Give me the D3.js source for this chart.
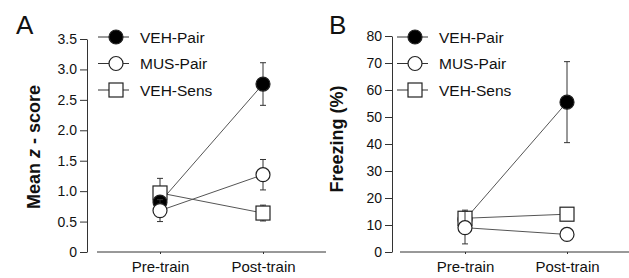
<!DOCTYPE html>
<html lang="en">
<head>
    <meta charset="UTF-8">
    <title>Z-score and freezing</title>
    <script src="https://d3js.org/d3.v7.min.js"></script>
    <style>
        body { margin: 0; background: white; }
        text { font-family: "Liberation Sans", Arial, sans-serif; fill: #111; }
        .tick text { font-size: 14px; }
        .axis path, .axis line { stroke: #333; stroke-width: 1px; }
        .ylab { font-size: 18px; font-weight: bold; }
        .panel { font-size: 26px; }
        .legend text { font-size: 15.5px; }
    </style>
</head>
<body>
<script>
    // categories and groups
    const phases = ["Pre-train", "Post-train"];
    const groups = ["VEH-Pair", "MUS-Pair", "VEH-Sens"];

    // panel A: mean z-score, [pre, post] and SEM
    const zMean = {"VEH-Pair": [0.82, 2.76], "MUS-Pair": [0.68, 1.27], "VEH-Sens": [0.97, 0.64]};
    const zErr  = {"VEH-Pair": [0.05, 0.35], "MUS-Pair": [0.18, 0.25], "VEH-Sens": [0.24, 0.13]};

    // panel B: freezing (%), [pre, post] and SEM
    const frzMean = {"VEH-Pair": [12, 55.5], "MUS-Pair": [9, 6.5], "VEH-Sens": [12.5, 14]};
    const frzErr  = {"VEH-Pair": [2, 15], "MUS-Pair": [6, 1], "VEH-Sens": [3, 1]};

    const zTicks = [0, 0.5, 1.0, 1.5, 2.0, 2.5, 3.0, 3.5];
    const frzTicks = [0, 10, 20, 30, 40, 50, 60, 70, 80];

    const svg = d3.select("body").append("svg")
        .attr("width", 629).attr("height", 278);

    function drawPanel(o) {
        const g = svg.append("g");
        const x = d3.scalePoint().domain(phases).range(o.xr);
        const y = d3.scaleLinear().domain([0, o.ymax]).range([252, o.ytop]);

        // y axis
        const ya = g.append("g").attr("class", "axis")
            .attr("transform", `translate(${o.ax},0)`)
            .call(d3.axisLeft(y).tickValues(o.ticks).tickSize(7).tickSizeOuter(0)
                .tickFormat(d => d === 0 ? "0" : o.fmt(d)));
        ya.selectAll(".tick text").attr("x", -10);

        // x axis line
        const xa = g.append("g").attr("class", "axis")
            .attr("transform", "translate(0,252)")
            .call(d3.axisBottom(x).tickSize(2).tickSizeOuter(0));
        xa.select(".domain").attr("d", `M${o.xl[0]},0H${o.xl[1]}`);
        xa.selectAll(".tick text").attr("y", 9).style("font-size", "15px");

        g.append("text").attr("class", "ylab")
            .attr("transform", `translate(${o.lx},${o.ly}) rotate(-90)`)
            .attr("text-anchor", "middle")
            .html(o.ylab);

        g.append("text").attr("class", "panel")
            .attr("x", o.px).attr("y", 34).text(o.letter);

        // connecting lines
        groups.forEach(k => {
            g.append("line")
                .attr("x1", x(phases[0])).attr("y1", y(o.mean[k][0]))
                .attr("x2", x(phases[1])).attr("y2", y(o.mean[k][1]))
                .attr("stroke", "#555").attr("stroke-width", 1);
        });

        // error bars + markers, in the panel's drawing order
        o.order.forEach(k => {
            phases.forEach((p, i) => {
                const cx = x(p), m = o.mean[k][i], e = o.err[k][i];
                g.append("path")
                    .attr("d", `M${cx},${y(m - e)}V${y(m + e)}M${cx - 3},${y(m - e)}H${cx + 3}M${cx - 3},${y(m + e)}H${cx + 3}`)
                    .attr("stroke", "#333").attr("fill", "none");
                marker(g, k, cx, y(m));
            });
        });

        // legend
        const lg = g.append("g").attr("class", "legend");
        groups.forEach((k, i) => {
            const ly = 37 + i * 26.5;
            lg.append("line").attr("x1", o.legx - 18).attr("x2", o.legx + 13)
                .attr("y1", ly).attr("y2", ly).attr("stroke", "#333");
            marker(lg, k, o.legx, ly);
            lg.append("text").attr("x", o.legx + 24).attr("y", ly + 5.5).text(k);
        });
    }

    function marker(g, k, cx, cy) {
        if (k === "VEH-Sens") {
            g.append("rect").attr("x", cx - 7).attr("y", cy - 7)
                .attr("width", 14).attr("height", 14)
                .attr("fill", "white").attr("stroke", "#222").attr("stroke-width", 1.2);
        } else {
            g.append("circle").attr("cx", cx).attr("cy", cy).attr("r", 7)
                .attr("fill", k === "VEH-Pair" ? "#000" : "white")
                .attr("stroke", "#222").attr("stroke-width", 1.2);
        }
    }

    drawPanel({
        letter: "A", px: 16, ax: 87, xr: [160, 263], xl: [97, 326],
        ymax: 3.5, ytop: 39, ticks: zTicks, fmt: d3.format(".1f"),
        mean: zMean, err: zErr, order: ["VEH-Sens", "VEH-Pair", "MUS-Pair"],
        ylab: 'Mean <tspan font-style="italic">z</tspan> - score', lx: 40, ly: 147, legx: 116
    });

    drawPanel({
        letter: "B", px: 329, ax: 392, xr: [465, 567], xl: [400, 629],
        ymax: 80, ytop: 36, ticks: frzTicks, fmt: d3.format("d"),
        mean: frzMean, err: frzErr, order: ["VEH-Pair", "VEH-Sens", "MUS-Pair"],
        ylab: "Freezing (%)", lx: 343, ly: 139, legx: 415
    });
</script>
</body>
</html>
